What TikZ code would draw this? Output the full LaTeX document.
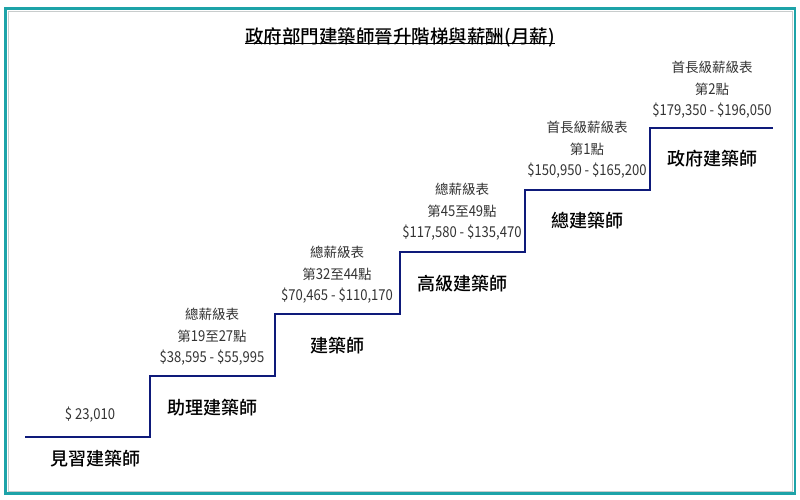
\documentclass[tikz,border=0pt]{standalone}
\usepackage{fontspec}
\setmainfont{Noto Sans CJK TC}
\newfontfamily\medfont{Noto Sans CJK TC Medium}
\newfontfamily\numfont[FakeStretch=0.87]{Noto Sans CJK TC}
\newcommand\nm[1]{{\numfont\fontsize{15}{21.5}\selectfont #1}}
\begin{document}
\begin{tikzpicture}[x=1pt,y=-1pt,
  stair/.style={draw=stairblue,line width=2.4pt},
  role/.style={font=\medfont\fontsize{18}{20}\selectfont,text=black,inner sep=0pt},
  pay/.style={font=\fontsize{13.5}{21.5}\selectfont,text=paygray,align=center,inner sep=0pt},
  titlestyle/.style={font=\medfont\fontsize{18.5}{20}\selectfont,text=black,inner sep=0pt}]
\definecolor{stairblue}{HTML}{0E1A7A}
\definecolor{paygray}{HTML}{333333}
\definecolor{frameteal}{HTML}{1DA3A8}
\definecolor{framegray}{HTML}{C8CCCC}
\useasboundingbox (0,0) rectangle (800,500);
\fill[white] (0,0) rectangle (800,500);
\draw[frameteal,line width=2.6pt] (5.5,8.5) rectangle (795,493.5);
\draw[framegray,line width=0.8pt] (8,11) rectangle (792.5,491);
% title
\node[titlestyle] (title) at (400,37) {政府部門建築師晉升階梯與薪酬(月薪)};
\draw[black,line width=0.9pt] ([yshift=3pt]title.south west) -- ([yshift=3pt]title.south east);
% stair coordinates
\coordinate (s0) at (25,437);
\coordinate (s1) at (150,437);
\coordinate (s2) at (150,376);
\coordinate (s3) at (275,376);
\coordinate (s4) at (275,314);
\coordinate (s5) at (400,314);
\coordinate (s6) at (400,252);
\coordinate (s7) at (525,252);
\coordinate (s8) at (525,190);
\coordinate (s9) at (650,190);
\coordinate (s10) at (650,128);
\coordinate (s11) at (773,128);
\draw[stair] (s0) -- (s1) -- (s2) -- (s3) -- (s4) -- (s5) -- (s6) -- (s7) -- (s8) -- (s9) -- (s10) -- (s11);
% roles
\node[role] (r1) at (95,459) {見習建築師};
\node[role] (r2) at (212,408) {助理建築師};
\node[role] (r3) at (337,346) {建築師};
\node[role] (r4) at (462,284) {高級建築師};
\node[role] (r5) at (587,221) {總建築師};
\node[role] (r6) at (712,159) {政府建築師};
% pay
\node[pay] (p1) at (90,415) {\nm{\$ 23,010}};
\node[pay] (p2) at (212,337) {總薪級表\\第\nm{19}至\nm{27}點\\\nm{\$38,595 - \$55,995}};
\node[pay] (p3) at (337,275) {總薪級表\\第\nm{32}至\nm{44}點\\\nm{\$70,465 - \$110,170}};
\node[pay] (p4) at (462,212) {總薪級表\\第\nm{45}至\nm{49}點\\\nm{\$117,580 - \$135,470}};
\node[pay] (p5) at (587,150) {首長級薪級表\\第\nm{1}點\\\nm{\$150,950 - \$165,200}};
\node[pay] (p6) at (712,90) {首長級薪級表\\第\nm{2}點\\\nm{\$179,350 - \$196,050}};
\end{tikzpicture}
\end{document}
